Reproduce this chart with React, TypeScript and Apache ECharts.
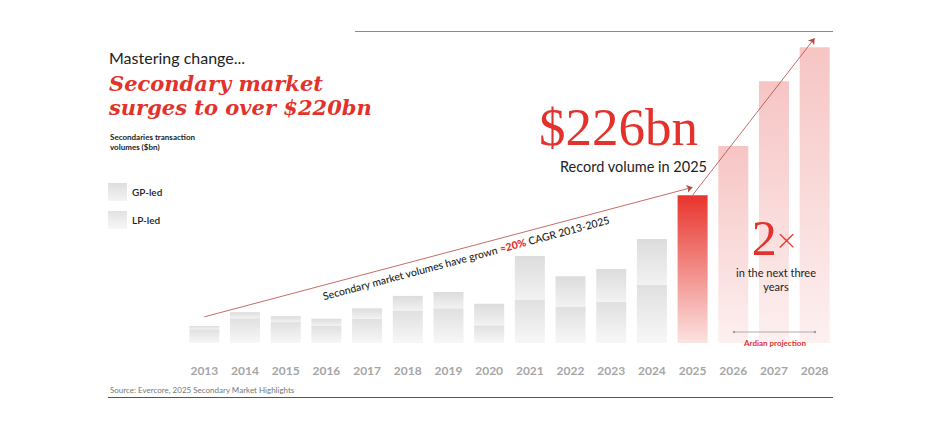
import React, { useEffect, useRef } from "react";
import * as echarts from "echarts";

const years = ["2013","2014","2015","2016","2017","2018","2019","2020","2021","2022","2023","2024","2025","2026","2027","2028"];
const lpLed = [21, 38, 32, 26, 37, 49, 53, 27, 66, 55, 63, 89, null, null, null, null];
const gpLed = [5, 9, 9, 11, 16, 23, 25, 33, 67, 47, 50, 70, null, null, null, null];
const record = [null, null, null, null, null, null, null, null, null, null, null, null, 226, null, null, null];
const projection = [null, null, null, null, null, null, null, null, null, null, null, null, null, 301, 400, 452];
const cagrArrow = [["2013", 40], ["2025", 238]];
const projArrow = [["2025", 226], ["2028", 466]];

const SANS = "Lato, 'Noto Sans', sans-serif";
const SERIF = "'Liberation Serif', 'DejaVu Serif', serif";
const SLAB = "'DejaVu Serif', serif";
const RED = "#e2322b";

function vgrad(top: string, bottom: string) {
  return new echarts.graphic.LinearGradient(0, 0, 0, 1, [
    { offset: 0, color: top },
    { offset: 1, color: bottom },
  ]);
}

export default function App() {
  const ref = useRef<HTMLDivElement>(null);
  useEffect(() => {
    if (!ref.current) return;
    const chart = echarts.init(ref.current, null, { renderer: "svg" });
    const arrowLine = (pts: (string | number)[][]) => [
      { coord: pts[0], symbol: "none" },
      { coord: pts[1], symbol: "arrow" },
    ];
    chart.setOption({
      animation: false,
      backgroundColor: "#ffffff",
      grid: { left: 184, right: 105, top: 29, bottom: 87 },
      legend: {
        orient: "vertical",
        left: 108,
        top: 183,
        padding: 0,
        itemWidth: 19,
        itemHeight: 18,
        itemGap: 10,
        icon: "rect",
        selectedMode: false,
        data: [
          { name: "GP-led", itemStyle: { color: vgrad("#dedede", "#f3f3f3") } },
          { name: "LP-led", itemStyle: { color: vgrad("#e2e2e2", "#f7f7f7") } },
        ],
        textStyle: { fontFamily: SANS, fontSize: 10, color: "#222", fontWeight: 600 },
      },
      xAxis: {
        type: "category",
        data: years,
        axisLine: { show: false },
        axisTick: { show: false },
        axisLabel: { color: "#a6a6a6", fontWeight: "bold", fontSize: 12, fontFamily: SANS, margin: 21 },
      },
      yAxis: { type: "value", min: 0, max: 480, show: false, splitLine: { show: false } },
      series: [
        {
          name: "LP-led",
          type: "bar",
          stack: "total",
          barWidth: 30,
          data: lpLed,
          itemStyle: { color: vgrad("#e0e0e0", "#f7f7f7") },
        },
        {
          name: "GP-led",
          type: "bar",
          stack: "total",
          barWidth: 30,
          data: gpLed,
          itemStyle: { color: vgrad("#dcdcdc", "#f2f2f2") },
        },
        {
          name: "Record",
          type: "bar",
          stack: "total",
          barWidth: 30,
          data: record,
          itemStyle: { color: vgrad("#e8342d", "#fbe3e1") },
        },
        {
          name: "Projection",
          type: "bar",
          stack: "total",
          barWidth: 30,
          data: projection,
          itemStyle: { color: vgrad("#f6c5c4", "#fdf0f0") },
          markLine: {
            silent: true,
            symbolSize: 6,
            label: { show: false },
            lineStyle: { color: "#b5473f", width: 0.8, type: "solid" },
            data: [arrowLine(cagrArrow), arrowLine(projArrow)],
          },
        },
      ],
      graphic: [
        { type: "line", z: 100, shape: { x1: 355, y1: 31.5, x2: 833, y2: 31.5 }, style: { stroke: "#8a8a8a", lineWidth: 1 } },
        { type: "line", z: 100, shape: { x1: 108, y1: 397.5, x2: 833, y2: 397.5 }, style: { stroke: "#555", lineWidth: 1 } },
        { type: "text", z: 100, x: 109, y: 57, style: { text: "Mastering change...", font: `16px ${SANS}`, fill: "#222", verticalAlign: "middle" } },
        { type: "text", z: 100, x: 109, y: 83, style: { text: "Secondary market", font: `italic bold 21px ${SLAB}`, fill: RED, verticalAlign: "middle" } },
        { type: "text", z: 100, x: 109, y: 107, style: { text: "surges to over $220bn", font: `italic bold 21px ${SLAB}`, fill: RED, verticalAlign: "middle" } },
        { type: "text", z: 100, x: 110, y: 137, style: { text: "Secondaries transaction", font: `bold 8px ${SANS}`, fill: "#222", verticalAlign: "middle" } },
        { type: "text", z: 100, x: 110, y: 147, style: { text: "volumes ($bn)", font: `bold 8px ${SANS}`, fill: "#222", verticalAlign: "middle" } },
        { type: "text", z: 100, x: 110, y: 390, style: { text: "Source: Evercore, 2025 Secondary Market Highlights", font: `8px ${SANS}`, fill: "#777", verticalAlign: "middle" } },
        {
          type: "text", z: 100, x: 466, y: 258, rotation: (15 * Math.PI) / 180,
          style: {
            text: "{a|Secondary market volumes have grown }{b|≈20%}{a| CAGR 2013-2025}",
            align: "center", verticalAlign: "middle",
            rich: {
              a: { fontFamily: SANS, fontSize: 10.5, fill: "#222", fontWeight: 500 },
              b: { fontFamily: SANS, fontSize: 10.5, fill: RED, fontWeight: 900 },
            },
          },
        },
        { type: "text", z: 100, x: 539, y: 127, style: { text: "$226bn", font: `53px ${SERIF}`, fill: RED, verticalAlign: "middle" } },
        { type: "text", z: 100, x: 560, y: 166, style: { text: "Record volume in 2025", font: `14.5px ${SANS}`, fill: "#222", verticalAlign: "middle" } },
        {
          type: "text", z: 100, x: 774, y: 238,
          style: {
            text: "{a|2}{b|×}",
            align: "center", verticalAlign: "middle",
            rich: {
              a: { fontFamily: SERIF, fontSize: 50, fill: RED },
              b: { fontFamily: SANS, fontSize: 34, fontWeight: 300, fill: RED },
            },
          },
        },
        { type: "text", z: 100, x: 776, y: 272, style: { text: "in the next three", font: `11px ${SANS}`, fill: "#222", align: "center", verticalAlign: "middle" } },
        { type: "text", z: 100, x: 776, y: 286, style: { text: "years", font: `11px ${SANS}`, fill: "#222", align: "center", verticalAlign: "middle" } },
        { type: "line", z: 100, shape: { x1: 734, y1: 332, x2: 815, y2: 332 }, style: { stroke: "#999", lineWidth: 0.8 } },
        { type: "circle", z: 100, shape: { cx: 734, cy: 332, r: 1.2 }, style: { fill: "#999" } },
        { type: "circle", z: 100, shape: { cx: 815, cy: 332, r: 1.2 }, style: { fill: "#999" } },
        { type: "text", z: 100, x: 775, y: 343, style: { text: "Ardian projection", font: `bold 8px ${SANS}`, fill: RED, align: "center", verticalAlign: "middle" } },
      ],
    });
    return () => chart.dispose();
  }, []);
  return <div ref={ref} style={{ position: "fixed", left: 0, top: 0, width: 940, height: 430 }} />;
}
